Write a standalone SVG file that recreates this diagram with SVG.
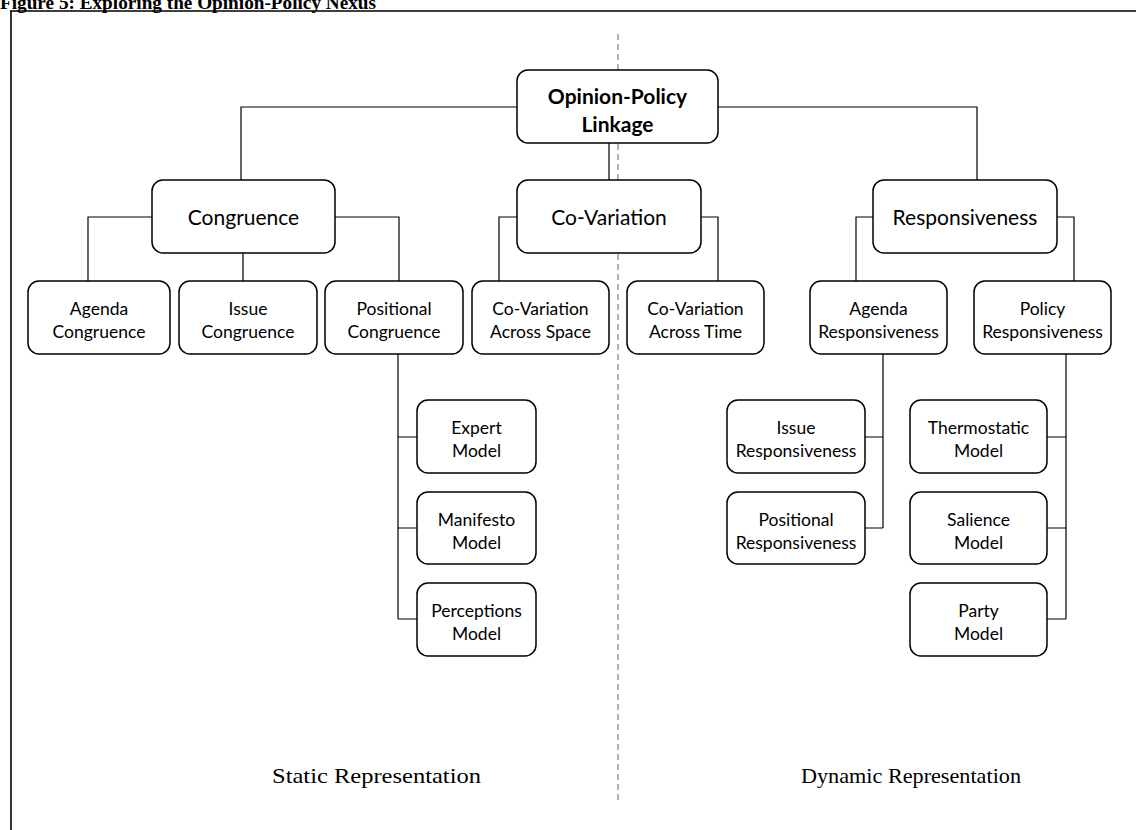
<svg xmlns="http://www.w3.org/2000/svg" width="1136" height="830" viewBox="0 0 1136 830">
<style>
.box{fill:#fff;stroke:#000;stroke-width:1.5}
.big{font-family:Lato,"Liberation Sans",sans-serif;font-size:21px;fill:#000;text-anchor:middle}
.sm{font-family:Lato,"Liberation Sans",sans-serif;font-size:17.5px;fill:#000;text-anchor:middle}
.bold{font-weight:bold}
.conn{fill:none;stroke:#000;stroke-width:1.2}
.cap{font-family:"Liberation Serif",serif;font-size:22px;fill:#000;text-anchor:middle}
</style>
<rect width="1136" height="830" fill="#fff"/>
<text x="0" y="9" font-family="Liberation Serif,serif" font-weight="bold" font-size="19px" textLength="376" lengthAdjust="spacingAndGlyphs">Figure 5: Exploring the Opinion-Policy Nexus</text>
<g id="frame" fill="none" stroke="#000" stroke-width="1.6">
<path d="M10 11 H1136 M11 11 V830"/>
</g>
<line id="divider" x1="618" y1="34" x2="618" y2="802" stroke="#999" stroke-width="1.5" stroke-dasharray="6 4"/>
<g id="connectors" class="conn">
<path class="conn" d="M241 180 V107 H517 M718 107 H977 V180 M609 143 V180"/>
<path class="conn" d="M243 253 V281 M152 217 H88 V281 M335 217 H399 V281"/>
<path class="conn" d="M517 217 H499 V281 M701 217 H718 V281"/>
<path class="conn" d="M873 217 H856 V281 M1057 217 H1074 V281"/>
<path class="conn" d="M398 354 V619 M398 437 H417 M398 528 H417 M398 619 H417"/>
<path class="conn" d="M883 354 V528 M865 437 H883 M865 528 H883"/>
<path class="conn" d="M1066 354 V619 M1047 437 H1066 M1047 528 H1066 M1047 619 H1066"/>
</g>
<g id="n-top"><rect class="box" x="517" y="70" width="201" height="73" rx="11"/><text class="big bold" x="617.5" y="104">Opinion-Policy</text><text class="big bold" x="617.5" y="132">Linkage</text></g>
<g id="n-congruence"><rect class="box" x="152" y="180" width="183" height="73" rx="11"/><text class="big" x="243.5" y="224.5">Congruence</text></g>
<g id="n-covariation"><rect class="box" x="517" y="180" width="184" height="73" rx="11"/><text class="big" x="609" y="224.5">Co-Variation</text></g>
<g id="n-responsiveness"><rect class="box" x="873" y="180" width="184" height="73" rx="11"/><text class="big" x="965" y="224.5">Responsiveness</text></g>
<g id="n-agenda-cong"><rect class="box" x="28" y="281" width="142" height="73" rx="11"/><text class="sm" x="99" y="315">Agenda</text><text class="sm" x="99" y="338">Congruence</text></g>
<g id="n-issue-cong"><rect class="box" x="179" y="281" width="138" height="73" rx="11"/><text class="sm" x="248" y="315">Issue</text><text class="sm" x="248" y="338">Congruence</text></g>
<g id="n-pos-cong"><rect class="box" x="325" y="281" width="138" height="73" rx="11"/><text class="sm" x="394" y="315">Positional</text><text class="sm" x="394" y="338">Congruence</text></g>
<g id="n-cov-space"><rect class="box" x="472" y="281" width="137" height="73" rx="11"/><text class="sm" x="540.5" y="315">Co-Variation</text><text class="sm" x="540.5" y="338">Across Space</text></g>
<g id="n-cov-time"><rect class="box" x="627" y="281" width="137" height="73" rx="11"/><text class="sm" x="695.5" y="315">Co-Variation</text><text class="sm" x="695.5" y="338">Across Time</text></g>
<g id="n-agenda-resp"><rect class="box" x="810" y="281" width="137" height="73" rx="11"/><text class="sm" x="878.5" y="315">Agenda</text><text class="sm" x="878.5" y="338">Responsiveness</text></g>
<g id="n-policy-resp"><rect class="box" x="974" y="281" width="137" height="73" rx="11"/><text class="sm" x="1042.5" y="315">Policy</text><text class="sm" x="1042.5" y="338">Responsiveness</text></g>
<g id="n-expert"><rect class="box" x="417" y="400" width="119" height="73" rx="11"/><text class="sm" x="476.5" y="434">Expert</text><text class="sm" x="476.5" y="457">Model</text></g>
<g id="n-manifesto"><rect class="box" x="417" y="492" width="119" height="72" rx="11"/><text class="sm" x="476.5" y="525.5">Manifesto</text><text class="sm" x="476.5" y="548.5">Model</text></g>
<g id="n-perceptions"><rect class="box" x="417" y="583" width="119" height="73" rx="11"/><text class="sm" x="476.5" y="617">Perceptions</text><text class="sm" x="476.5" y="640">Model</text></g>
<g id="n-issue-resp"><rect class="box" x="727" y="400" width="138" height="73" rx="11"/><text class="sm" x="796" y="434">Issue</text><text class="sm" x="796" y="457">Responsiveness</text></g>
<g id="n-pos-resp"><rect class="box" x="727" y="492" width="138" height="72" rx="11"/><text class="sm" x="796" y="525.5">Positional</text><text class="sm" x="796" y="548.5">Responsiveness</text></g>
<g id="n-thermo"><rect class="box" x="910" y="400" width="137" height="73" rx="11"/><text class="sm" x="978.5" y="434">Thermostatic</text><text class="sm" x="978.5" y="457">Model</text></g>
<g id="n-salience"><rect class="box" x="910" y="492" width="137" height="72" rx="11"/><text class="sm" x="978.5" y="525.5">Salience</text><text class="sm" x="978.5" y="548.5">Model</text></g>
<g id="n-party"><rect class="box" x="910" y="583" width="137" height="73" rx="11"/><text class="sm" x="978.5" y="617">Party</text><text class="sm" x="978.5" y="640">Model</text></g>
<text class="cap" x="376.5" y="783" textLength="209" lengthAdjust="spacingAndGlyphs">Static Representation</text>
<text class="cap" x="911" y="783" textLength="220" lengthAdjust="spacingAndGlyphs">Dynamic Representation</text>
</svg>
